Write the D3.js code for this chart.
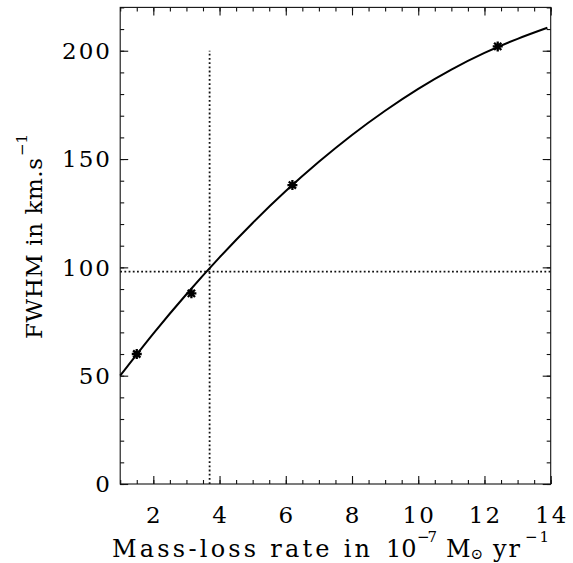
<!DOCTYPE html>
<html><head><meta charset="utf-8">
<script src="https://cdn.jsdelivr.net/npm/d3@7"></script>
<style>
html,body{margin:0;padding:0;background:#fff;}
svg{display:block;}
text{font-family:"DejaVu Serif",serif;fill:#000;}
</style></head>
<body>
<svg id="c" width="573" height="563"></svg>
<script>
// ---- data ----
const pointsX = [1.5, 3.15, 6.2, 12.4];
const pointsY = [60, 88, 138, 202];
const curveX = [1, 2, 3, 4, 5, 6, 7, 8, 9, 10, 11, 12, 13, 13.9];
const curveY = [50, 69.4, 87.6, 104.6, 120.5, 135.2, 148.7, 161.1, 172.3, 182.4, 191.3, 199, 205.5, 210.6];
const markX = [3.7];          // vertical dotted marker (x value)
const markXTop = [200];       // vertical dotted line reaches y = 200
const markY = [98];           // horizontal dotted marker (y value)
const xTicks = [2, 4, 6, 8, 10, 12, 14];
const yTicks = [0, 50, 100, 150, 200];
const xMinor = d3.range(1, 14.001, 0.5);
const yMinor = d3.range(0, 220.001, 10);

const svg = d3.select("#c");
const L = 120.2, R = 550.7, T = 7.4, B = 484;
const x = d3.scaleLinear([1, 14], [L, R]);
const y = d3.scaleLinear([0, 220], [B, T]);

const ink = "#111";
const fs = 23, ls = 2;

// axes ticks (inward, all four sides)
function ax(gen, tr, vals, size) {
  const g = svg.append("g").attr("transform", tr)
    .call(gen.tickValues(vals).tickSize(size).tickFormat(""));
  g.select(".domain").remove();
  g.selectAll("line").attr("stroke", ink).attr("stroke-width", 1.1);
}
ax(d3.axisBottom(x), `translate(0,${B})`, xMinor, -4);
ax(d3.axisBottom(x), `translate(0,${B})`, xTicks, -8);
ax(d3.axisTop(x), `translate(0,${T})`, xMinor, -4);
ax(d3.axisTop(x), `translate(0,${T})`, xTicks, -8);
ax(d3.axisLeft(y), `translate(${L},0)`, yMinor, -4);
ax(d3.axisLeft(y), `translate(${L},0)`, yTicks, -8);
ax(d3.axisRight(y), `translate(${R},0)`, yMinor, -4);
ax(d3.axisRight(y), `translate(${R},0)`, yTicks, -8);

// frame
svg.append("rect").attr("x", L).attr("y", T).attr("width", R - L).attr("height", B - T)
  .attr("fill", "none").attr("stroke", ink).attr("stroke-width", 1.1);

// tick labels
svg.append("g").selectAll("text").data(xTicks).join("text")
  .attr("x", d => x(d) + ls / 2).attr("y", 523.3)
  .attr("text-anchor", "middle").attr("font-size", fs).attr("letter-spacing", ls)
  .text(d => d);
svg.append("g").selectAll("text").data(yTicks).join("text")
  .attr("x", 110 + ls).attr("y", d => y(d) + 8.4)
  .attr("text-anchor", "end").attr("font-size", fs).attr("letter-spacing", ls)
  .text(d => d);

// dotted lines
const dot = "1.8,2.4";
svg.append("g").selectAll("line").data(markX).join("line")
  .attr("x1", d => x(d)).attr("x2", d => x(d))
  .attr("y1", B).attr("y2", (d, i) => y(markXTop[i]))
  .attr("stroke", ink).attr("stroke-width", 1.8).attr("stroke-dasharray", dot);
svg.append("g").selectAll("line").data(markY).join("line")
  .attr("x1", L).attr("x2", R)
  .attr("y1", d => y(d)).attr("y2", d => y(d))
  .attr("stroke", ink).attr("stroke-width", 1.8).attr("stroke-dasharray", dot);

// fitted curve
const line = d3.line().x(d => x(d[0])).y(d => y(d[1])).curve(d3.curveNatural);
svg.append("path").datum(d3.zip(curveX, curveY))
  .attr("d", line).attr("fill", "none").attr("stroke", "#000").attr("stroke-width", 2);

// asterisk markers
const r = 5, q = r * 0.72;
const ast = `M${-r},0L${r},0M0,${-r}L0,${r}M${-q},${-q}L${q},${q}M${-q},${q}L${q},${-q}`;
svg.append("g").selectAll("path").data(d3.zip(pointsX, pointsY)).join("path")
  .attr("transform", d => `translate(${x(d[0])},${y(d[1])})`)
  .attr("d", ast).attr("fill", "none").attr("stroke", "#000").attr("stroke-width", 2.3);

// axis titles: one text element each, pieces as tspans
function piece(t, txt, px, py, size, len) {
  const s = t.append("tspan").attr("x", px).attr("y", py).text(txt);
  if (size) s.attr("font-size", size);
  if (len) s.attr("textLength", len).attr("lengthAdjust", "spacing");
  return s;
}
const xl = svg.append("text").attr("font-size", 24);
piece(xl, "Mass-loss rate in", 112, 556.5, null, 258);
piece(xl, "10", 386, 556.5, null, null);
piece(xl, "−7", 417, 542, 15, 20);
piece(xl, "M", 446, 556.5, null, null);
piece(xl, "⊙", 470.5, 558.5, 15, null);
piece(xl, "yr", 493, 556.5, null, null).attr("letter-spacing", 2);
piece(xl, "−1", 525, 542, 15, 24);

const yl = svg.append("text").attr("font-size", fs)
  .attr("transform", "translate(41.7,339) rotate(-90)");
piece(yl, "FWHM in km.s", 0, 0, null, 181);
piece(yl, "−1", 183, -15, 15, 22);
</script>
</body></html>
